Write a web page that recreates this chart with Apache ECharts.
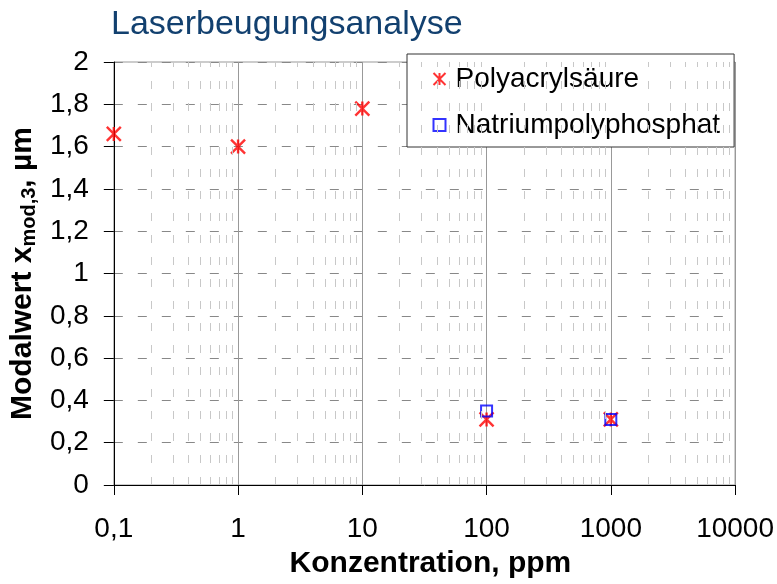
<!DOCTYPE html>
<html>
<head>
<meta charset="utf-8">
<script src="https://cdn.jsdelivr.net/npm/echarts@6/dist/echarts.min.js"></script>
<style>
  html, body { margin: 0; padding: 0; background: #fff; }
  #chart { width: 777px; height: 584px; }
</style>
</head>
<body>
<div id="chart"></div>
<script>
var paaConc = [0.1, 1, 10, 100, 1000];
var paaValues = [1.66, 1.6, 1.78, 0.31, 0.31];
var nppConc = [100, 1000];
var nppValues = [0.35, 0.31];

// Nebengitter zwischen den Dekaden
var minorGridX = [];
[0.1, 1, 10, 100, 1000].forEach(function (d) {
  for (var k = 2; k <= 9; k++) minorGridX.push(+(d * k).toPrecision(3));
});

var font = '"Liberation Sans", Arial, sans-serif';
var comma = function (v) { return String(+v.toPrecision(6)).replace('.', ','); };

var myChart = echarts.init(document.getElementById('chart'));

var option = {
  animation: false,
  title: {
    text: 'Laserbeugungsanalyse',
    left: 106,
    top: 3,
    textStyle: { fontFamily: font, fontSize: 34, fontWeight: 'normal', color: '#12406F' }
  },
  legend: {
    orient: 'vertical',
    left: 407,
    top: 54,
    padding: [8, 14, 5, 24],
    itemGap: 12,
    itemWidth: 12,
    itemHeight: 12,
    backgroundColor: '#fff',
    borderColor: '#333',
    borderWidth: 1,
    textStyle: { fontFamily: font, fontSize: 28, lineHeight: 34, color: '#000', padding: [0, 0, 0, 5] },
    data: ['Polyacrylsäure', 'Natriumpolyphosphat']
  },
  grid: {
    left: 112,
    right: 40,
    top: 62,
    bottom: 99,
    show: true,
    borderColor: '#999',
    borderWidth: 1
  },
  xAxis: {
    type: 'log',
    logBase: 10,
    min: 0.1,
    max: 10000,
    name: 'Konzentration, ppm',
    nameLocation: 'middle',
    nameGap: 64,
    nameTextStyle: { fontFamily: font, fontSize: 30, fontWeight: 'bold', color: '#000', padding: [0, 0, 0, 12] },
    axisLine: { lineStyle: { color: '#000', width: 1 } },
    axisTick: { length: 10, lineStyle: { color: '#000' } },
    axisLabel: {
      fontFamily: font, fontSize: 28, color: '#000', margin: 30,
      formatter: comma
    },
    splitLine: { show: true, lineStyle: { color: '#999', width: 1 } }
  },
  yAxis: {
    type: 'value',
    min: 0,
    max: 2,
    interval: 0.2,
    name: '{b|Modalwert x}{s|mod,3}{b|, µm}',
    nameLocation: 'middle',
    nameGap: 63,
    nameTextStyle: {
      rich: {
        b: { fontFamily: font, fontSize: 30, fontWeight: 'bold', color: '#000' },
        s: { fontFamily: font, fontSize: 20, fontWeight: 'bold', color: '#000', padding: [12, 0, 0, 0] }
      }
    },
    axisLine: { show: true, lineStyle: { color: '#000', width: 1 } },
    axisTick: { show: true, length: 10, lineStyle: { color: '#000' } },
    axisLabel: {
      fontFamily: font, fontSize: 28, color: '#000', margin: 25,
      formatter: comma
    },
    splitLine: { show: true, lineStyle: { color: '#888', width: 1, type: [9, 15] } }
  },
  series: [
    {
      name: 'minor',
      type: 'scatter',
      data: [],
      silent: true,
      z: 1,
      markLine: {
        silent: true,
        symbol: ['none', 'none'],
        label: { show: false },
        lineStyle: { color: '#c8c8c8', width: 1, type: [8, 14] },
        data: minorGridX.map(function (v) { return { xAxis: v }; })
      }
    },
    {
      name: 'Polyacrylsäure',
      type: 'scatter',
      z: 3,
      symbol: 'path://M0,0L10,10M10,0L0,10M5,0L5,10',
      symbolSize: 14,
      itemStyle: { color: 'none', borderColor: '#ff0000', borderWidth: 2.4 },
      data: paaConc.map(function (c, i) { return [c, paaValues[i]]; })
    },
    {
      name: 'Natriumpolyphosphat',
      type: 'scatter',
      z: 4,
      symbol: 'rect',
      symbolSize: 11,
      itemStyle: { color: 'rgba(0,0,0,0)', borderColor: '#0000ff', borderWidth: 2 },
      data: nppConc.map(function (c, i) { return [c, nppValues[i]]; })
    }
  ]
};

myChart.setOption(option);
</script>
</body>
</html>
